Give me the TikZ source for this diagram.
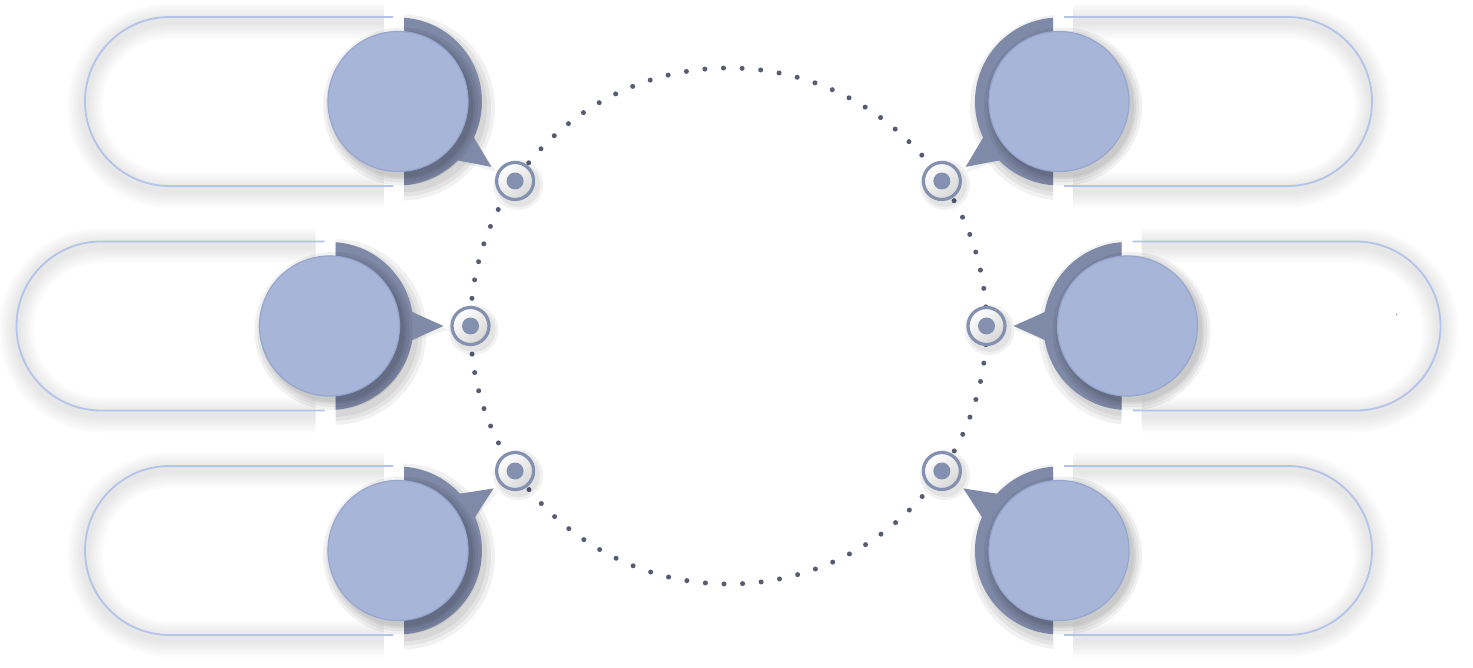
\documentclass[tikz,border=0pt]{standalone}
\usetikzlibrary{calc}
\definecolor{lightc}{HTML}{A7B5D9}
\definecolor{lightedge}{HTML}{97A6CF}
\definecolor{darkc}{HTML}{7F8AA8}
\definecolor{pillc}{HTML}{B3C3EA}
\definecolor{ringc}{HTML}{8490B0}
\definecolor{dotc}{HTML}{575C70}
\tikzset{
  pillline/.style={draw=pillc, line width=1.8pt},
  pillglow/.style={draw=black, opacity=0.011, line join=round},
  bubble/.style={circle, inner sep=0pt, minimum size=140pt, fill=lightc, draw=lightedge, line width=1.2pt},
  darkpart/.style={fill=darkc},
  softshadow/.style={fill=black, opacity=0.055},
  marker/.style={circle, inner sep=0pt, minimum size=37pt, draw=ringc, line width=3.2pt,
    top color=white, bottom color=black!16, shading angle=40},
  markerdot/.style={circle, inner sep=0pt, minimum size=17pt, fill=ringc},
  dotring/.style={draw=dotc, line width=5pt, line cap=round, dash pattern=on 0pt off 18.63pt},
}
% #1 name, #2 cx, #3 cy, #4 mirror (1 or -1), #5 pointer angle
\newcommand\bubbleunit[5]{%
\begin{scope}[shift={(#2,#3)}, xscale=#4]
  \foreach \w in {36,32,28,24,20,16,12,8}{
    \draw[pillglow, line width=\w pt, shift={(0,4)}] (-14,-84.5) -- (-228.5,-84.5)
      arc[start angle=270,end angle=90,radius=84.5] -- (-14,84.5);}
  \draw[pillline] (-5,-84.5) -- (-228.5,-84.5)
      arc[start angle=270,end angle=90,radius=84.5] -- (-5,84.5);
  \begin{scope}
    \clip (6,-130) rectangle (150,130);
    \foreach \r in {85,89,93}{\fill[softshadow] ({4*#4},6) circle[radius=\r];}
  \end{scope}
  \fill[softshadow] ({#5-10}:84) -- ($(#5:116)+({3*#4},4)$) -- ({#5+10}:84) -- cycle;
  \fill[darkpart] (6,-83.8) arc[start angle=-85.9,end angle=85.9,radius=84] -- cycle;
  \fill[darkpart] ({#5-10}:83) -- (#5:114) -- ({#5+10}:83) -- cycle;
  \foreach \r in {71,73,76,79}{\fill[softshadow] ({4*#4},5) circle[radius=\r];}
  \node[bubble] (#1) at (0,0) {};
\end{scope}}
\begin{document}
\begin{tikzpicture}[x=1pt,y=-1pt]
\useasboundingbox (0,0) rectangle (1473,668);
\fill[white] (0,0) rectangle (1473,668);
\coordinate (o) at (728.5,326);
\draw[dotring] (o) circle[radius=258];
\bubbleunit{b1}{398}{101.5}{1}{35}
\bubbleunit{b2}{329.5}{326}{1}{0}
\bubbleunit{b3}{398}{550.5}{1}{-33}
\bubbleunit{b4}{1059}{101.5}{-1}{35}
\bubbleunit{b5}{1127.5}{326}{-1}{0}
\bubbleunit{b6}{1059}{550.5}{-1}{-33}
\foreach \a/\n in {214.2/1,180/2,145.8/3,-34.2/4,0/5,34.2/6}{
  \fill[softshadow] ($(o)+(\a:258)+(3,4)$) circle[radius=22];
  \fill[softshadow] ($(o)+(\a:258)+(3,4)$) circle[radius=25];
  \node[marker] (m\n) at ($(o)+(\a:258)$) {};
  \node[markerdot] (d\n) at (m\n) {};
}
\node[text=dotc, font=\fontsize{7}{7}\selectfont, inner sep=0pt] (tick) at (1397,317) {$'$};
\end{tikzpicture}
\end{document}
